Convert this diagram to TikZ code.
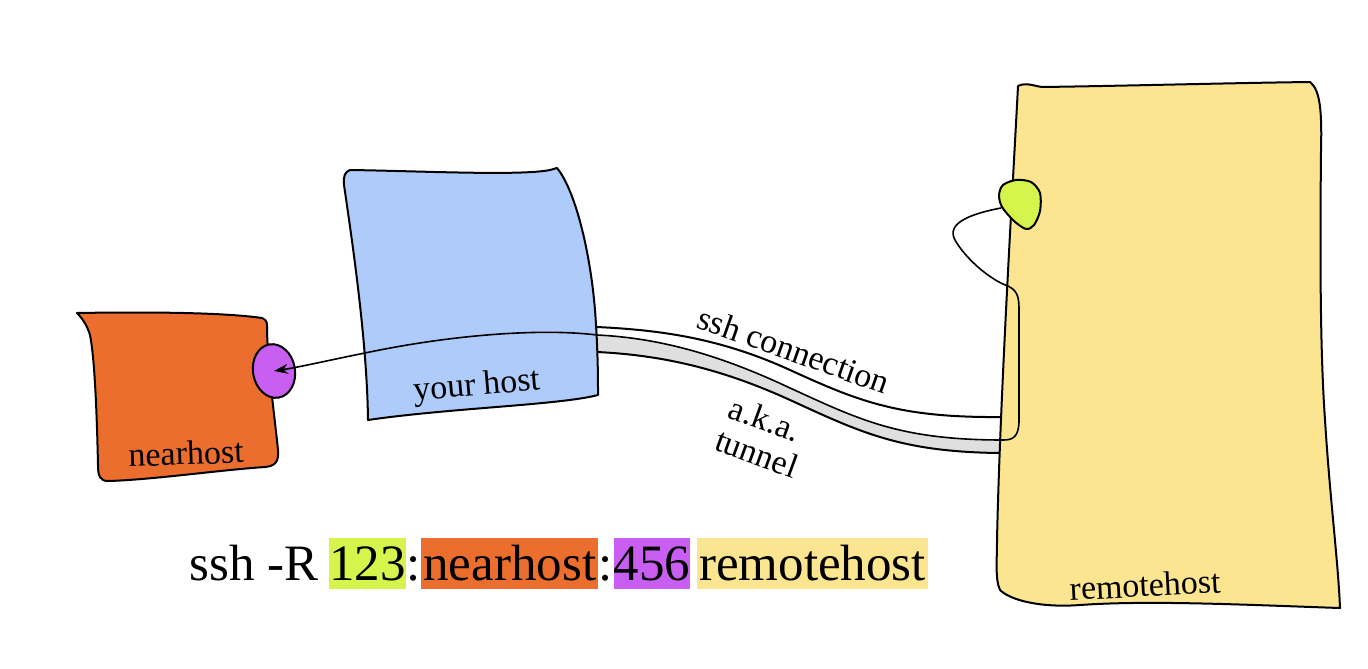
\documentclass[tikz,border=0pt]{standalone}
\usepackage{fontspec}
\setmainfont{Liberation Serif}
\usepackage{tikz}
\usetikzlibrary{positioning, shapes.geometric, arrows.meta}

\definecolor{nearorange}{HTML}{EC6E2E}
\definecolor{portpurple}{HTML}{C95FF2}
\definecolor{hostblue}{HTML}{AECBFA}
\definecolor{remoteyellow}{HTML}{FBE590}
\definecolor{portgreen}{HTML}{D6F54C}

\begin{document}
\begin{tikzpicture}[x=0.5pt, y=-0.5pt,
  hostbox/.style={draw, line width=1pt, line join=round},
  hostlabel/.style={font=\fontsize{17}{20}\selectfont, inner sep=1pt},
  link/.style={line width=0.8pt, -{Stealth[length=7pt, width=5pt]}},
  cmdpart/.style={font=\fontsize{25.5}{30}\selectfont, inner xsep=0pt, inner ysep=0pt,
    text height=21pt, text depth=4.5pt}
]
  \useasboundingbox (0,0) rectangle (1368,668);

  % nearhost
  \draw[hostbox, fill=nearorange] (77,313) .. controls (140,312) and (220,312) .. (262,318)
    .. controls (268,320) and (267,325) .. (267,330)
    .. controls (268,370) and (275,420) .. (278,450)
    .. controls (279,462) and (275,466) .. (265,467)
    .. controls (220,470) and (150,480) .. (108,481)
    .. controls (100,481) and (98,476) .. (98,465)
    .. controls (97,420) and (95,360) .. (90,335)
    .. controls (87,325) and (82,318) .. (77,313) -- cycle;
  \node[hostlabel, rotate=2] (nearlabel) at (186,453) {nearhost};
  \node[ellipse, draw, line width=1pt, fill=portpurple, inner sep=0pt,
    minimum width=21pt, minimum height=27pt, rotate=10] (nearport) at (274,371) {};

  % tunnel
  \fill[gray!25] (597,327) .. controls (660,330) and (720,338) .. (790,370)
    .. controls (860,402) and (900,418) .. (1003,417) -- (1000,453)
    .. controls (900,452) and (860,432) .. (790,400)
    .. controls (720,368) and (660,355) .. (597,352) -- cycle;
  \fill[white] (597,327) .. controls (660,330) and (720,338) .. (790,370)
    .. controls (860,402) and (900,418) .. (1003,417) -- (1003,440)
    .. controls (900,440) and (860,420) .. (790,388)
    .. controls (720,355) and (660,338) .. (597,335) -- cycle;
  \draw[line width=1pt] (597,327) .. controls (660,330) and (720,338) .. (790,370)
    .. controls (860,402) and (900,418) .. (1003,417);
  \draw[line width=1pt] (597,352) .. controls (660,355) and (720,368) .. (790,400)
    .. controls (860,432) and (900,452) .. (1000,453);
  \node[hostlabel, rotate=-19.5] (sshlabel) at (794,350) {ssh connection};
  \node[hostlabel, rotate=-20] (akalabel) at (765,419) {a.k.a.};
  \node[hostlabel, rotate=-20] (tunnellabel) at (757,453) {tunnel};

  % your host
  \draw[hostbox, fill=hostblue] (350,170) .. controls (420,171) and (520,176) .. (550,170)
    -- (557,168)
    .. controls (575,190) and (590,250) .. (595,310)
    .. controls (598,350) and (598,380) .. (598,395)
    .. controls (560,405) and (450,408) .. (368,420)
    .. controls (367,340) and (352,240) .. (344,185)
    .. controls (343,176) and (345,172) .. (350,170) -- cycle;
  \node[hostlabel, rotate=5] (yourlabel) at (477,387) {your host};

  % remotehost
  \draw[hostbox, fill=remoteyellow] (1018,86) .. controls (1026,82) and (1034,86) .. (1042,87)
    .. controls (1120,86) and (1230,83) .. (1310,82)
    .. controls (1320,90) and (1322,110) .. (1321,150)
    .. controls (1320,250) and (1320,350) .. (1325,420)
    .. controls (1330,500) and (1338,560) .. (1340,608)
    .. controls (1250,605) and (1150,600) .. (1080,605)
    .. controls (1040,608) and (1010,600) .. (1000,590)
    .. controls (995,580) and (997,560) .. (997,540)
    .. controls (1000,400) and (1012,200) .. (1018,86) -- cycle;
  \node[hostlabel, rotate=3] (remotelabel) at (1145,585) {remotehost};
  \draw[line width=1pt, fill=portgreen] plot[smooth cycle] coordinates
    {(1003,185) (1016,180) (1031,182) (1040,193) (1040,211) (1034,225) (1026,229) (1014,221) (1002,207) (999,195)};
  \coordinate (greenport) at (1001,208);

  % forwarded connection
  \draw[link] (greenport) .. controls (975,213) and (945,222) .. (955,240)
    .. controls (965,258) and (990,280) .. (1008,286)
    .. controls (1020,292) and (1019,300) .. (1019,320) -- (1019,420)
    .. controls (1019,438) and (1012,440) .. (1003,440)
    .. controls (900,440) and (860,420) .. (790,388)
    .. controls (720,355) and (660,338) .. (597,335)
    .. controls (540,328) and (450,335) .. (365,353)
    .. controls (330,360) and (300,367) .. (nearport.center);

  % command line
  \node[cmdpart, anchor=base west] (cmd) at (189,580) {ssh -R};
  \node[cmdpart, fill=portgreen, right=5pt of cmd] (p123) {123};
  \node[cmdpart, right=0pt of p123] (colonA) {:};
  \node[cmdpart, fill=nearorange, inner xsep=1pt, right=0pt of colonA] (pnear) {nearhost};
  \node[cmdpart, right=0pt of pnear] (colonB) {:};
  \node[cmdpart, fill=portpurple, right=0pt of colonB] (p456) {456};
  \node[cmdpart, fill=remoteyellow, inner xsep=1pt, right=3pt of p456] (premote) {remotehost};
\end{tikzpicture}
\end{document}
